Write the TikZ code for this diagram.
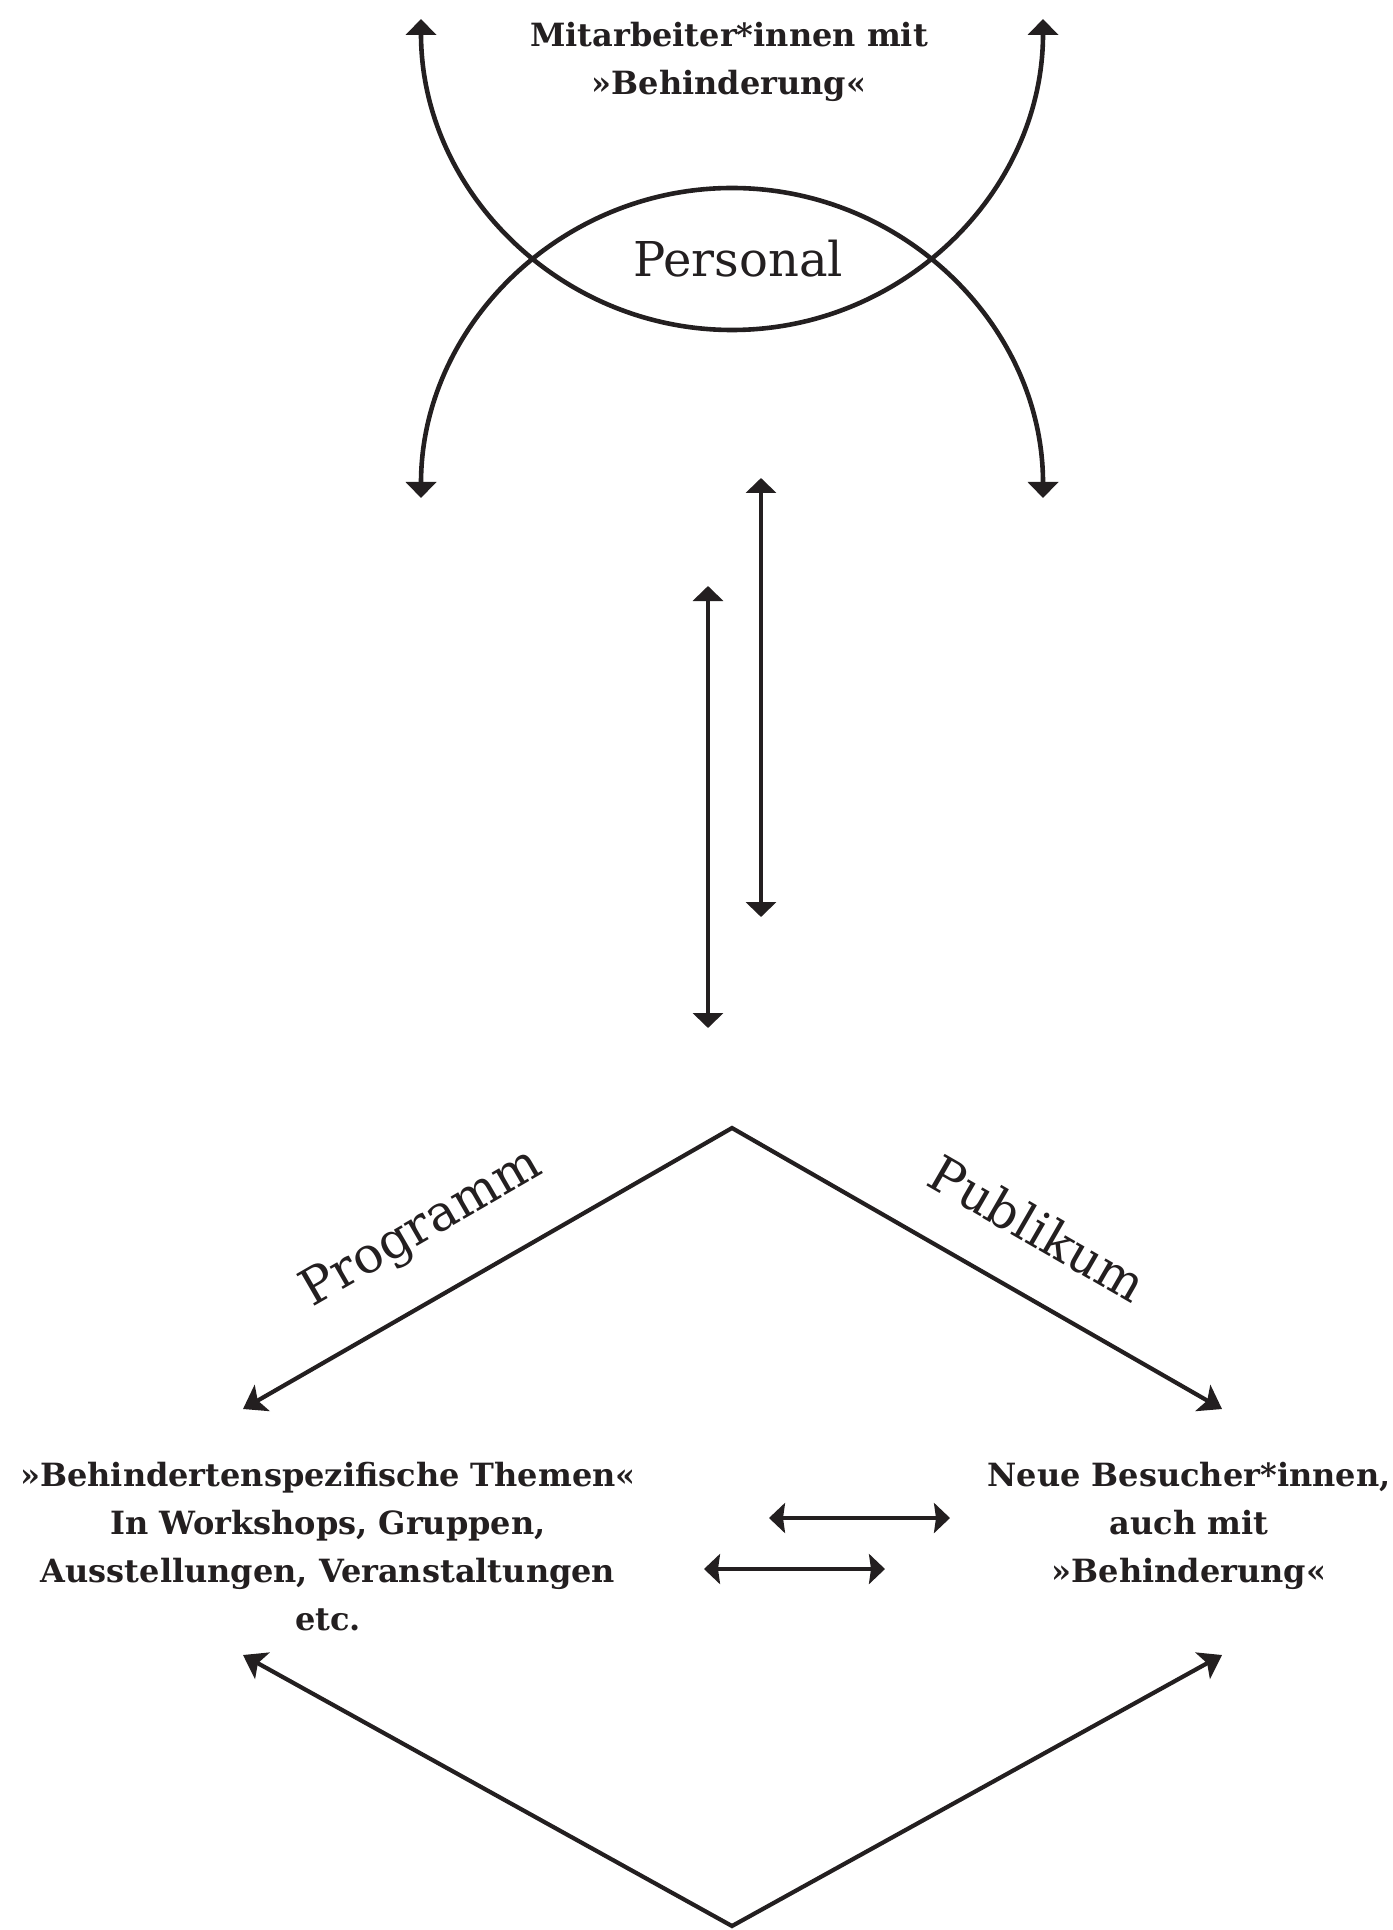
\documentclass[tikz,border=0pt]{standalone}
\usepackage{fontspec}
\setmainfont{DejaVu Serif}
\usetikzlibrary{arrows.meta}
\definecolor{ink}{HTML}{231F20}
\begin{document}
\begin{tikzpicture}[x=0.5pt,y=-0.5pt,
  arcline/.style={line width=2.3pt, draw=ink, {Triangle[length=8pt,width=15pt]}-{Triangle[length=8pt,width=15pt]}},
  vline/.style={line width=2.1pt, draw=ink, {Triangle[length=7.5pt,width=15pt]}-{Triangle[length=7.5pt,width=15pt]}},
  hline/.style={line width=2.1pt, draw=ink, {Stealth[length=8pt,width=15pt,inset=1pt]}-{Stealth[length=8pt,width=15pt,inset=1pt]}},
  dline/.style={line width=2.1pt, draw=ink, miter limit=10, {Stealth[length=11pt,width=15pt,inset=2.5pt]}-{Stealth[length=11pt,width=15pt,inset=2.5pt]}},
  btext/.style={font=\fontsize{16}{24}\bfseries\selectfont, align=center, inner sep=0pt, text=ink},
  bigtext/.style={font=\fontsize{24}{28}\selectfont, inner sep=0pt, text=ink},
  slanttext/.style={font=\fontsize{25}{28}\selectfont, inner sep=0pt, text=ink}
]
\useasboundingbox (0,0) rectangle (1392,1930);

% top curves
\coordinate (ul) at (421,19);
\coordinate (ur) at (1043,19);
\coordinate (bl) at (421,498);
\coordinate (br) at (1043,498);
\draw[arcline] (ul) arc[start angle=180, end angle=0, x radius=311, y radius=311];
\draw[arcline] (bl) arc[start angle=180, end angle=360, x radius=311, y radius=310];

\node[btext, anchor=base] (staff) at (729,95) {Mitarbeiter*innen mit\\»Behinderung«};
\node[bigtext, anchor=base] (personal) at (738,277) {Personal};

% vertical double arrows
\coordinate (v1t) at (761,478);
\coordinate (v1b) at (761,917);
\coordinate (v2t) at (708,586);
\coordinate (v2b) at (708,1028);
\draw[vline] (v1t) -- (v1b);
\draw[vline] (v2t) -- (v2b);

% upper triangle
\coordinate (apx) at (732,1128);
\coordinate (tl) at (243,1409);
\coordinate (tr) at (1222,1409);
\draw[dline] (tl) -- (apx) -- (tr);
\node[slanttext, rotate=30] (prog) at (422,1229) {Programm};
\node[slanttext, rotate=-30] (pub) at (1038,1228) {Publikum};

% texts
\node[btext, anchor=base] (themes) at (328,1630) {»Behindertenspezifische Themen«\\In Workshops, Gruppen,\\Ausstellungen, Veranstaltungen\\etc.};
\node[btext, anchor=base] (visitors) at (1189,1582) {Neue Besucher*innen,\\auch mit\\»Behinderung«};

% horizontal double arrows
\coordinate (h1l) at (769,1518);
\coordinate (h1r) at (950,1518);
\coordinate (h2l) at (704,1569);
\coordinate (h2r) at (885,1569);
\draw[hline] (h1l) -- (h1r);
\draw[hline] (h2l) -- (h2r);

% lower V
\coordinate (bot) at (732,1926);
\coordinate (lbl) at (243,1655);
\coordinate (lbr) at (1222,1655);
\draw[dline] (lbl) -- (bot) -- (lbr);
\end{tikzpicture}
\end{document}
